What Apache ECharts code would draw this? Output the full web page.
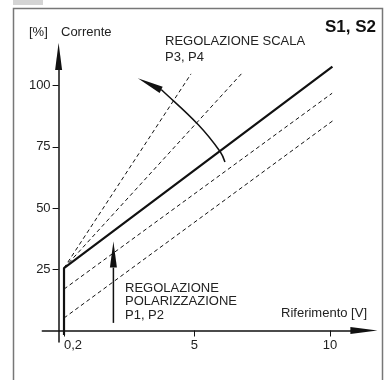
<!DOCTYPE html>
<html>
<head>
<meta charset="utf-8">
<script src="https://cdn.jsdelivr.net/npm/echarts@6/dist/echarts.min.js"></script>
<style>
html, body { margin: 0; padding: 0; background: #fff; }
#chart { width: 391px; height: 380px; }
</style>
</head>
<body>
<div id="chart"></div>
<script>
var xTicks = [0.2, 5, 10];
var xTickLabels = ['0,2', '5', '10'];
var yTicks = [25, 50, 75, 100];

// curva S1, S2 (linea piena)
var mainLine = [[0.2, -1.8], [0.2, 25.5], [10.09, 107.8]];
// regolazione scala P3, P4
var scaleLine1 = [[0.2, 25.5], [4.88, 104.8]];
var scaleLine2 = [[0.2, 25.5], [6.8, 105.6]];
// regolazione polarizzazione P1, P2
var biasLine1 = [[0.2, 16.9], [10.08, 96.9]];
var biasLine2 = [[0.2, 5.1], [10.11, 85.7]];
// frecce
var scaleArrow = [[6.13, 68.8], [5.95, 73.1], [5.14, 84.1], [3.8, 98.2], [2.92, 103.0]];
var biasArrow = [[2.02, 3.1], [2.02, 36.3]];

var FONT = 'Liberation Sans, Arial, Helvetica, sans-serif';
var INK = '#111';

function dashed(points) {
    return {
        type: 'line',
        data: points,
        symbol: 'none',
        silent: true,
        lineStyle: { color: INK, width: 1, type: [4, 3] }
    };
}

function arrow(points, smooth) {
    return {
        type: 'custom',
        data: points,
        silent: true,
        z: 5,
        renderItem: function (params, api) {
            if (params.dataIndex !== 0) return null;
            var pts = points.map(function (p) { return api.coord(p); });
            var tip = pts[pts.length - 1];
            var prev = pts[pts.length - 2];
            var dx = tip[0] - prev[0], dy = tip[1] - prev[1];
            var len = Math.sqrt(dx * dx + dy * dy);
            var ux = dx / len, uy = dy / len;
            var hl = 26, hw = 3.5;
            var bx = tip[0] - ux * hl, by = tip[1] - uy * hl;
            var shaft = pts.slice(0, -1).concat([[bx, by]]);
            return {
                type: 'group',
                children: [{
                    type: 'polyline',
                    shape: { points: shaft, smooth: smooth },
                    style: { stroke: INK, lineWidth: 1.5, fill: 'none' }
                }, {
                    type: 'polygon',
                    shape: { points: [tip, [bx - uy * hw, by + ux * hw], [bx + uy * hw, by - ux * hw]] },
                    style: { fill: INK }
                }]
            };
        }
    };
}

function txt(text, x, y, extra) {
    var style = { text: text, x: x, y: y, font: '13px ' + FONT, fill: '#222', verticalAlign: 'middle', align: 'left' };
    for (var k in extra) style[k] = extra[k];
    return { type: 'text', silent: true, style: style };
}

var myChart = echarts.init(document.getElementById('chart'));

// assi: la griglia va da x=-0.6 e y=-4.7, gli assi sono spostati su x=0 / y=0
option = {
    animation: false,
    grid: { left: 42.3, right: 27.1, top: 56.5, bottom: 38, outerBoundsMode: 'none' },
    xAxis: {
        type: 'value',
        min: -0.6,
        max: 11.25,
        offset: -11.5,
        splitLine: { show: false },
        axisLine: { onZero: false, symbol: ['none', 'triangle'], symbolSize: [7, 27], lineStyle: { color: INK, width: 1.5 } },
        axisTick: { customValues: xTicks, length: 6, lineStyle: { color: INK, width: 1 } },
        axisLabel: {
            customValues: xTicks,
            color: '#222', fontSize: 13, fontFamily: FONT, margin: 8,
            formatter: function (v) {
                var s = xTickLabels[xTicks.indexOf(v)];
                return v === 0.2 ? '{l|' + s + '}' : s;
            },
            rich: { l: { fontSize: 13, fontFamily: FONT, color: '#222', padding: [0, 0, 0, 18] } }
        }
    },
    yAxis: {
        type: 'value',
        min: -4.7,
        max: 111.9,
        offset: -16.3,
        splitLine: { show: false },
        axisLine: { onZero: false, symbol: ['none', 'triangle'], symbolSize: [7, 27], lineStyle: { color: INK, width: 1.5 } },
        axisTick: { customValues: yTicks, length: 6, lineStyle: { color: INK, width: 1 } },
        axisLabel: { customValues: yTicks, color: '#222', fontSize: 13, fontFamily: FONT, margin: 8 }
    },
    graphic: [
        { type: 'rect', silent: true, shape: { x: 13, y: 0, width: 30, height: 5 }, style: { fill: '#d4d4d4' } },
        { type: 'rect', silent: true, shape: { x: 13.5, y: 8.5, width: 369, height: 400 }, style: { fill: 'none', stroke: '#777', lineWidth: 1.5 } },
        txt('[%]', 29, 32),
        txt('Corrente', 61, 32),
        txt('REGOLAZIONE SCALA', 165, 41),
        txt('P3, P4', 165, 57),
        txt('S1, S2', 325, 27, { font: 'bold 17px ' + FONT, fill: '#111' }),
        txt('REGOLAZIONE', 125, 288),
        txt('POLARIZZAZIONE', 125, 301.5),
        txt('P1, P2', 125, 315),
        txt('Riferimento [V]', 367, 313, { align: 'right' })
    ],
    series: [
        dashed(scaleLine1),
        dashed(scaleLine2),
        dashed(biasLine1),
        dashed(biasLine2),
        {
            type: 'line',
            data: mainLine,
            symbol: 'none',
            silent: true,
            z: 4,
            lineStyle: { color: INK, width: 2.2 }
        },
        arrow(scaleArrow, 0.4),
        arrow(biasArrow, 0)
    ]
};
myChart.setOption(option);
window.addEventListener('resize', function () {
    myChart.resize();
});
</script>
</body>
</html>
